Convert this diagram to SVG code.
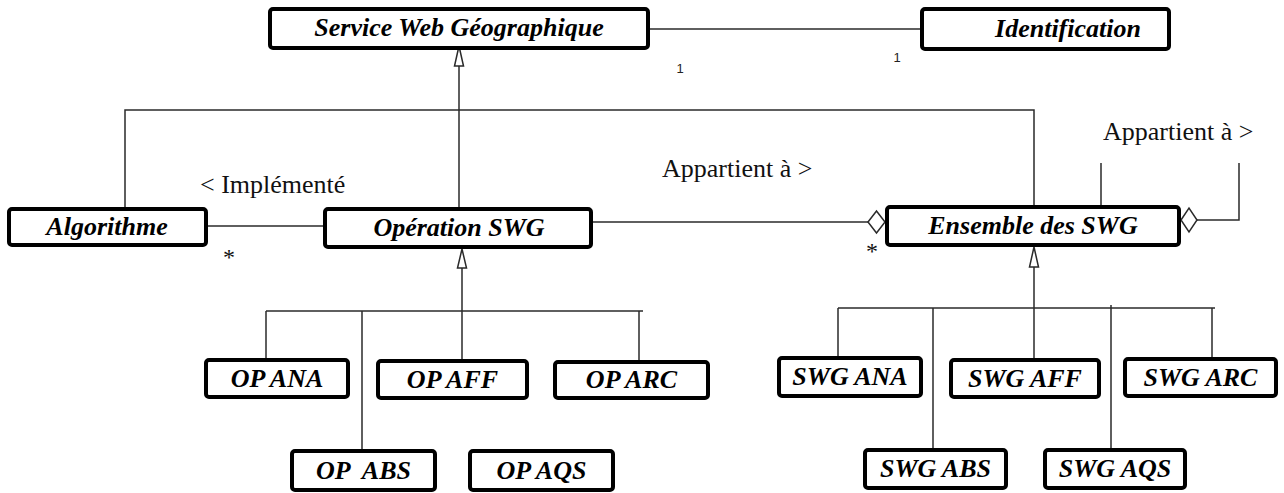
<svg xmlns="http://www.w3.org/2000/svg" width="1284" height="493" viewBox="0 0 1284 493">
<style>
.box{fill:#fff;stroke:#000;stroke-width:4}
.lbl{font-family:"Liberation Serif","Times New Roman",serif;font-style:italic;font-weight:bold;font-size:26px;text-anchor:middle;fill:#000;white-space:pre}
.ln{fill:none;stroke:#2a2a2a;stroke-width:1.5}
.gen{fill:#fff;stroke:#2a2a2a;stroke-width:1.5}
.agg{fill:#fff;stroke:#2a2a2a;stroke-width:1.5}
.rl{font-family:"Liberation Serif","Times New Roman",serif;font-size:26px;fill:#111}
.star{font-family:"Liberation Serif","Times New Roman",serif;font-size:24px;fill:#111;text-anchor:middle}
.mult{font-family:"Liberation Sans",Arial,sans-serif;font-size:13px;fill:#222;text-anchor:middle}
</style>
<rect width="1284" height="493" fill="#fff"/>
<g id="connectors">
  <line class="ln" x1="650" y1="29" x2="920" y2="29"/>
  <text class="mult" x="680" y="73">1</text>
  <text class="mult" x="897" y="62">1</text>
  <polyline class="ln" points="459,207 459,66"/>
  <polygon class="gen" points="459,46 454.5,66 463.5,66"/>
  <polyline class="ln" points="125,207 125,110 1034,110 1034,205"/>
  <line class="ln" x1="208" y1="226" x2="323" y2="226"/>
  <text class="rl" x="200" y="193">&lt; Implémenté</text>
  <text class="star" x="229" y="265">*</text>
  <line class="ln" x1="593" y1="222" x2="868" y2="222"/>
  <polygon class="agg" points="868,222 876.5,211 885,222 876.5,233"/>
  <text class="rl" x="662" y="177">Appartient à &gt;</text>
  <text class="star" x="872" y="259">*</text>
  <polygon class="agg" points="1181,220 1189,208 1197,220 1189,232"/>
  <polyline class="ln" points="1197,220 1239,220 1239,163"/>
  <line class="ln" x1="1101" y1="163" x2="1101" y2="205"/>
  <text class="rl" x="1103" y="140">Appartient à &gt;</text>
  <polygon class="gen" points="462,249 457.5,268 466.5,268"/>
  <line class="ln" x1="462" y1="268" x2="462" y2="359"/>
  <line class="ln" x1="266" y1="311" x2="643" y2="311"/>
  <line class="ln" x1="266" y1="311" x2="266" y2="358"/>
  <line class="ln" x1="362" y1="311" x2="362" y2="449"/>
  <line class="ln" x1="639" y1="311" x2="639" y2="360"/>
  <polygon class="gen" points="1034,247 1029.5,267 1038.5,267"/>
  <line class="ln" x1="1034" y1="267" x2="1034" y2="358"/>
  <line class="ln" x1="838" y1="308" x2="1215" y2="308"/>
  <line class="ln" x1="838" y1="308" x2="838" y2="356"/>
  <line class="ln" x1="933" y1="308" x2="933" y2="448"/>
  <line class="ln" x1="1111" y1="305" x2="1111" y2="448"/>
  <line class="ln" x1="1212" y1="308" x2="1212" y2="357"/>
</g>
<g id="swg"><rect class="box" x="270" y="9" width="378" height="39" rx="3"/><text class="lbl" x="459" y="36">Service Web Géographique</text></g>
<g id="identification"><rect class="box" x="922" y="9" width="247" height="40" rx="3"/><text class="lbl" x="1068" y="37">Identification</text></g>
<g id="algorithme"><rect class="box" x="9" y="209" width="197" height="36" rx="3"/><text class="lbl" x="107" y="235">Algorithme</text></g>
<g id="operation"><rect class="box" x="325" y="209" width="266" height="38" rx="3"/><text class="lbl" x="459" y="236">Opération SWG</text></g>
<g id="ensemble"><rect class="box" x="887" y="207" width="292" height="38" rx="3"/><text class="lbl" x="1033" y="234">Ensemble des SWG</text></g>
<g id="op-ana"><rect class="box" x="206" y="360" width="142" height="37" rx="3"/><text class="lbl" x="277" y="387">OP ANA</text></g>
<g id="op-aff"><rect class="box" x="378" y="361" width="149" height="37" rx="3"/><text class="lbl" x="452.5" y="388">OP AFF</text></g>
<g id="op-arc"><rect class="box" x="555" y="362" width="153" height="36" rx="3"/><text class="lbl" x="631.5" y="388">OP ARC</text></g>
<g id="op-abs"><rect class="box" x="292" y="451" width="143" height="39" rx="3"/><text class="lbl" x="363.5" y="479">OP  ABS</text></g>
<g id="op-aqs"><rect class="box" x="470" y="451" width="143" height="39" rx="3"/><text class="lbl" x="541.5" y="479">OP AQS</text></g>
<g id="swg-ana"><rect class="box" x="779" y="358" width="142" height="38" rx="3"/><text class="lbl" x="850" y="385">SWG ANA</text></g>
<g id="swg-aff"><rect class="box" x="951" y="360" width="148" height="37" rx="3"/><text class="lbl" x="1025" y="387">SWG AFF</text></g>
<g id="swg-arc"><rect class="box" x="1125" y="359" width="151" height="37" rx="3"/><text class="lbl" x="1200.5" y="386">SWG ARC</text></g>
<g id="swg-abs"><rect class="box" x="865" y="450" width="141" height="38" rx="3"/><text class="lbl" x="935.5" y="477">SWG ABS</text></g>
<g id="swg-aqs"><rect class="box" x="1045" y="450" width="140" height="38" rx="3"/><text class="lbl" x="1115" y="477">SWG AQS</text></g>
</svg>
